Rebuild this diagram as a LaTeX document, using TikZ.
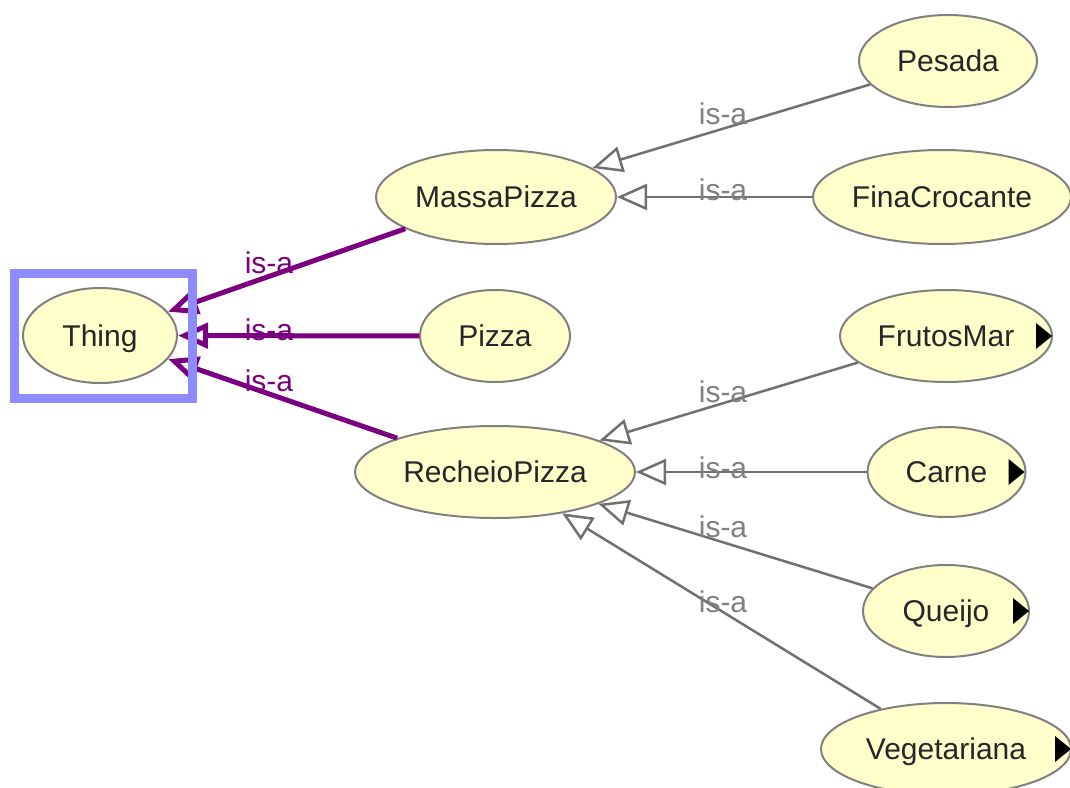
\documentclass[tikz,border=0pt]{standalone}
\usepackage{fontspec}
\setmainfont{Liberation Sans}
\usetikzlibrary{shapes.geometric,arrows.meta}
\definecolor{nodefill}{RGB}{255,255,204}
\definecolor{nodeborder}{RGB}{128,128,128}
\definecolor{edgegray}{RGB}{112,112,112}
\definecolor{labelgray}{RGB}{128,128,128}
\definecolor{isapurple}{RGB}{122,0,128}
\definecolor{selblue}{RGB}{140,140,255}
\begin{document}
\begin{tikzpicture}[x=1pt,y=-1pt,
  cls/.style={ellipse, draw=nodeborder, line width=2pt, fill=nodefill, inner sep=0pt,
    font=\fontsize{30}{36}\selectfont, text=black!85, text height=21pt, text depth=0pt},
  isa/.style={draw=edgegray, line width=2.5pt, -{Triangle[length=30pt,width=26pt,fill=white]}},
  isatop/.style={draw=isapurple, line width=5pt, -{Triangle[length=30pt,width=25pt,fill=white]}},
  lblgray/.style={text=labelgray, font=\fontsize{30}{36}\selectfont, inner sep=0pt, text height=21pt, text depth=0pt},
  lblpurple/.style={text=isapurple, font=\fontsize{30}{36}\selectfont, inner sep=0pt, text height=21pt, text depth=0pt},
  moremark/.style={fill=black}
]
\useasboundingbox[fill=white] (0,0) rectangle (1070,787);

% nodes
\node[cls, minimum width=154pt, minimum height=95pt] (thing) at (100,335.5) {\makebox[0pt]{Thing}};
\node[cls, minimum width=240pt, minimum height=94pt] (massa) at (496,197) {\makebox[0pt]{MassaPizza}};
\node[cls, minimum width=150pt, minimum height=92pt] (pizza) at (495,336) {\makebox[0pt]{Pizza}};
\node[cls, minimum width=280pt, minimum height=92pt] (recheio) at (495,472) {\makebox[0pt]{RecheioPizza}};
\node[cls, minimum width=178pt, minimum height=92pt] (pesada) at (948,61) {\makebox[0pt]{Pesada}};
\node[cls, minimum width=258pt, minimum height=94pt] (fina) at (942,197) {\makebox[0pt]{FinaCrocante}};
\node[cls, minimum width=212pt, minimum height=92pt] (frutos) at (946,336) {\makebox[0pt]{FrutosMar}};
\node[cls, minimum width=158pt, minimum height=90pt] (carne) at (946.5,472) {\makebox[0pt]{Carne}};
\node[cls, minimum width=166pt, minimum height=92pt] (queijo) at (946,611) {\makebox[0pt]{Queijo}};
\node[cls, minimum width=250pt, minimum height=92pt] (veg) at (946,749) {\makebox[0pt]{Vegetariana}};

% expand markers
\fill[moremark] ([xshift=-1pt]frutos.east) -- ++(-16,-13) -- ++(0,26) -- cycle;
\fill[moremark] ([xshift=-2pt]carne.east) -- ++(-16,-13) -- ++(0,26) -- cycle;
\fill[moremark] ([xshift=-1pt]queijo.east) -- ++(-16,-13) -- ++(0,26) -- cycle;
\fill[moremark] ([xshift=-1pt]veg.east) -- ++(-16,-13) -- ++(0,26) -- cycle;

% edges
\draw[isa] (pesada) -- (massa);
\draw[isa] (fina) -- (massa);
\draw[isa] (frutos) -- (recheio);
\draw[isa] (carne) -- (recheio);
\draw[isa] (queijo) -- (recheio);
\draw[isa] (veg) -- (recheio);
\draw[isatop] (massa) -- (thing);
\draw[isatop] (pizza) -- (thing);
\draw[isatop] (recheio) -- (thing);

% selection box (drawn over the arrows)
\node[draw=selblue, line width=9pt, minimum width=178pt, minimum height=125.5pt, inner sep=0pt] (sel) at (103.5,335.75) {};

% labels
\node[lblpurple] (l1) at (269,263) {is-a};
\node[lblpurple] (l2) at (269,330) {is-a};
\node[lblpurple] (l3) at (269,381) {is-a};
\node[lblgray] (l4) at (723,114) {is-a};
\node[lblgray] (l5) at (723,190) {is-a};
\node[lblgray] (l6) at (723,392) {is-a};
\node[lblgray] (l7) at (723,468) {is-a};
\node[lblgray] (l8) at (723,527) {is-a};
\node[lblgray] (l9) at (723,602) {is-a};
\end{tikzpicture}
\end{document}
